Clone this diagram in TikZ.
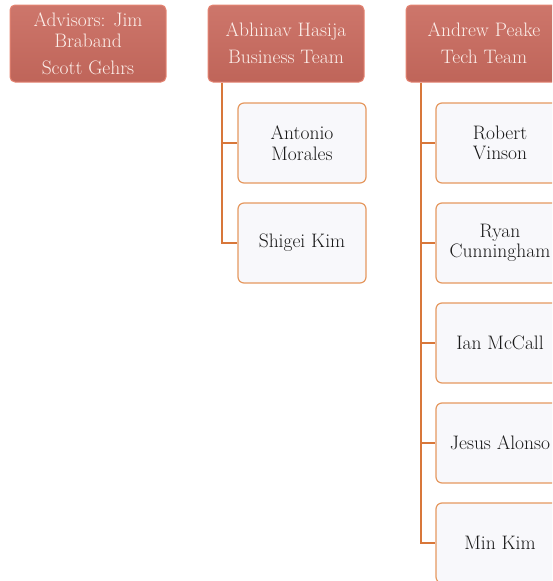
\documentclass[tikz,border=0pt]{standalone}
\usepackage{fontspec}
\usepackage{tikz}
\usetikzlibrary{positioning}

\definecolor{headred}{HTML}{C96A5E}
\definecolor{headedge}{HTML}{E58472}
\definecolor{headtext}{HTML}{FCEFEA}
\definecolor{linkorange}{HTML}{D8773A}
\definecolor{memberedge}{HTML}{E5985F}
\definecolor{memberfill}{HTML}{F8F8FB}

\begin{document}
\begin{tikzpicture}[x=1pt, y=-1pt,
    head/.style={draw=headedge, line width=1pt, top color=headred!92!white, bottom color=headred!95!black,
        rounded corners=5pt, minimum width=156pt, minimum height=77pt, align=center,
        text=headtext, font=\fontsize{19.5}{21}\selectfont},
    member/.style={draw=memberedge, line width=1.2pt, fill=memberfill, rounded corners=6pt,
        minimum width=128pt, minimum height=80pt, align=center, text=black!90,
        font=\fontsize{19.5}{20.5}\selectfont},
    link/.style={draw=linkorange, line width=2pt}]

    \useasboundingbox (0,0) rectangle (552,581);
    \clip (0,0) rectangle (552,581);

    % team heads
    \node[head] (advisors) at (88, 43.5) {Advisors: Jim\\Braband\\[6pt]Scott Gehrs};
    \node[head] (business) at (286, 43.5) {Abhinav Hasija\\[6pt]Business Team};
    \node[head] (tech) at (484, 43.5) {Andrew Peake\\[6pt]Tech Team};

    % business team
    \node[member] (antonio) at (302, 143) {Antonio\\Morales};
    \node[member, below=18.8pt of antonio] (shigei) {Shigei Kim};

    % tech team
    \node[member] (robert) at (500, 143) {Robert\\Vinson};
    \node[member, below=18.8pt of robert] (ryan) {Ryan\\Cunningham};
    \node[member, below=18.8pt of ryan] (ian) {Ian McCall};
    \node[member, below=18.8pt of ian] (jesus) {Jesus Alonso};
    \node[member, below=18.8pt of jesus] (min) {Min Kim};

    % connectors
    \coordinate (btrunk) at ([xshift=14pt]business.south west);
    \draw[link] (btrunk) |- (shigei.west);
    \draw[link] (btrunk |- antonio.west) -- (antonio.west);

    \coordinate (ttrunk) at ([xshift=15pt]tech.south west);
    \draw[link] (ttrunk) |- (min.west);
    \draw[link] (ttrunk |- robert.west) -- (robert.west);
    \draw[link] (ttrunk |- ryan.west) -- (ryan.west);
    \draw[link] (ttrunk |- ian.west) -- (ian.west);
    \draw[link] (ttrunk |- jesus.west) -- (jesus.west);

\end{tikzpicture}
\end{document}
